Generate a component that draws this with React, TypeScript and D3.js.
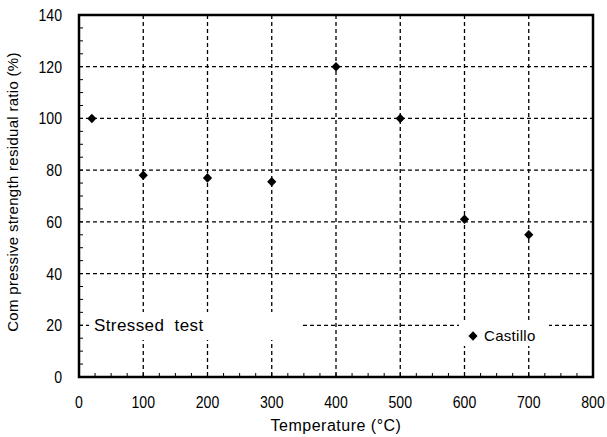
import React from "react";
import * as d3 from "d3";

const temps = [20, 100, 200, 300, 400, 500, 600, 700];
const ratios = [100, 78, 77, 75.5, 120, 100, 61, 55];
const xTicks = [0, 100, 200, 300, 400, 500, 600, 700, 800];
const yTicks = [0, 20, 40, 60, 80, 100, 120, 140];

const W = 607, H = 437;
const M = { left: 79, right: 593, top: 15, bottom: 377 };

export default function App() {
  const x = d3.scaleLinear().domain([0, 800]).range([M.left, M.right]);
  const y = d3.scaleLinear().domain([0, 140]).range([M.bottom, M.top]);
  const diamond = "M0,-4.8L4.6,0L0,4.8L-4.6,0Z";
  const font = "'Liberation Sans', Arial, sans-serif";
  const xMinor = d3.range(0, 801, 25);
  const yMinor = d3.range(0, 141, 5);
  const dash = "4,3";
  return (
    <svg width={W} height={H} style={{ position: "absolute", left: 0, top: 0, background: "#fff" }}
      fontFamily={font}>
      <rect x={0} y={0} width={W} height={H} fill="#fff" />
      {yTicks.filter(v => v > 0 && v < 140).map(v => (
        <line key={"gy" + v} x1={M.left} x2={M.right} y1={y(v)} y2={y(v)}
          stroke="#000" strokeWidth={1.3} strokeDasharray={dash} />
      ))}
      {xTicks.filter(v => v > 0 && v < 800).map(v => (
        <line key={"gx" + v} x1={x(v)} x2={x(v)} y1={M.top} y2={M.bottom}
          stroke="#000" strokeWidth={1.3} strokeDasharray={dash} />
      ))}
      {/* legend boxes */}
      <rect x={89} y={312} width={211} height={28} fill="#fff" />
      <text x={94} y={331} fontSize={17} letterSpacing={0.4} fill="#000" xmlSpace="preserve">Stressed  test</text>
      <rect x={459} y={320} width={90} height={26} fill="#fff" />
      <path d={diamond} transform={`translate(473,336)`} fill="#000" />
      <text x={484} y={341} fontSize={15} letterSpacing={0.3} fill="#000">Castillo</text>
      {/* minor ticks */}
      {yMinor.map(v => (
        <line key={"my" + v} x1={M.left} x2={M.left + 4} y1={y(v)} y2={y(v)} stroke="#000" strokeWidth={1} />
      ))}
      {xMinor.map(v => (
        <line key={"mx" + v} x1={x(v)} x2={x(v)} y1={M.bottom} y2={M.bottom - 4} stroke="#000" strokeWidth={1} />
      ))}
      <rect x={M.left} y={M.top} width={M.right - M.left} height={M.bottom - M.top}
        fill="none" stroke="#000" strokeWidth={2.5} />
      {temps.map((t, i) => (
        <path key={"p" + i} d={diamond} transform={`translate(${x(t)},${y(ratios[i])})`} fill="#000" />
      ))}
      {yTicks.map(v => (
        <text key={"yl" + v} x={62} y={y(v) + 6} fontSize={16} textAnchor="end" fill="#000"
          transform={`translate(62,0) scale(0.88,1) translate(-62,0)`}>{v}</text>
      ))}
      {xTicks.map(v => (
        <text key={"xl" + v} x={x(v)} y={408} fontSize={16} textAnchor="middle" fill="#000"
          transform={`translate(${x(v)},0) scale(0.88,1) translate(${-x(v)},0)`}>{v}</text>
      ))}
      <text x={(M.left + M.right) / 2} y={431} fontSize={16} letterSpacing={0.5} textAnchor="middle" fill="#000">Temperature (°C)</text>
      <text transform={`translate(18,${(M.top + M.bottom) / 2 - 4}) rotate(-90)`} fontSize={15} letterSpacing={0.3}
        textAnchor="middle" fill="#000">Com pressive strength residual ratio (%)</text>
    </svg>
  );
}
